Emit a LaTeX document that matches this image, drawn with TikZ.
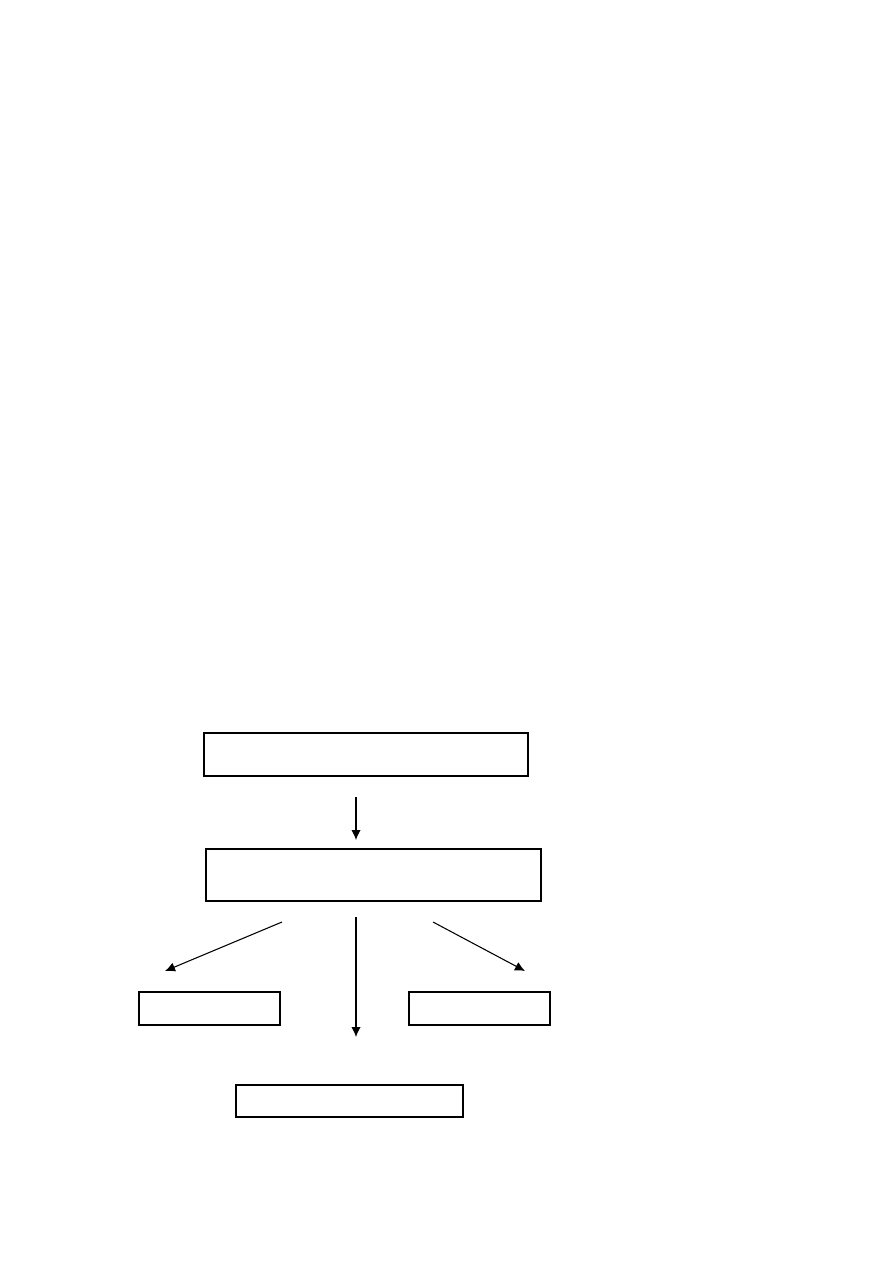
\documentclass[tikz,border=0pt]{standalone}
\usetikzlibrary{arrows.meta, positioning}
\tikzset{
	blok/.style={
		draw,
		rectangle,
		line width=0.9pt,
		inner sep=0pt
	},
	pijl/.style={
		line width=0.8pt,
		-{Latex[length=7.5pt, width=7pt]}
	}
}

\begin{document}
\begin{tikzpicture}[x=0.75pt, y=-0.75pt]
		\useasboundingbox (0,0) rectangle (893,1263);
		
		\node [blok, minimum width=243pt, minimum height=32.25pt] (bron) at (366,754.5) {};
		\node [blok, minimum width=251.25pt, minimum height=39pt] (kern) at (373.5,875) {};
		\node [blok, minimum width=105.75pt, minimum height=24.75pt] (links) at (209.5,1008.5) {};
		\node [blok, minimum width=105.75pt, minimum height=24.75pt] (rechts) at (479.5,1008.5) {};
		\node [blok, minimum width=170.25pt, minimum height=24pt] (onder) at (349.5,1101) {};
		
		\coordinate (a1) at (356,797);
		\coordinate (b1) at (356,840);
		\coordinate (a2) at (282,922);
		\coordinate (b2) at (165,971);
		\coordinate (a3) at (356,917);
		\coordinate (b3) at (356,1037);
		\coordinate (a4) at (433,922);
		\coordinate (b4) at (525,971);
		
		\foreach \i in {1,...,4} {
			\draw [pijl] (a\i) -- (b\i);
		}
\end{tikzpicture}
\end{document}
